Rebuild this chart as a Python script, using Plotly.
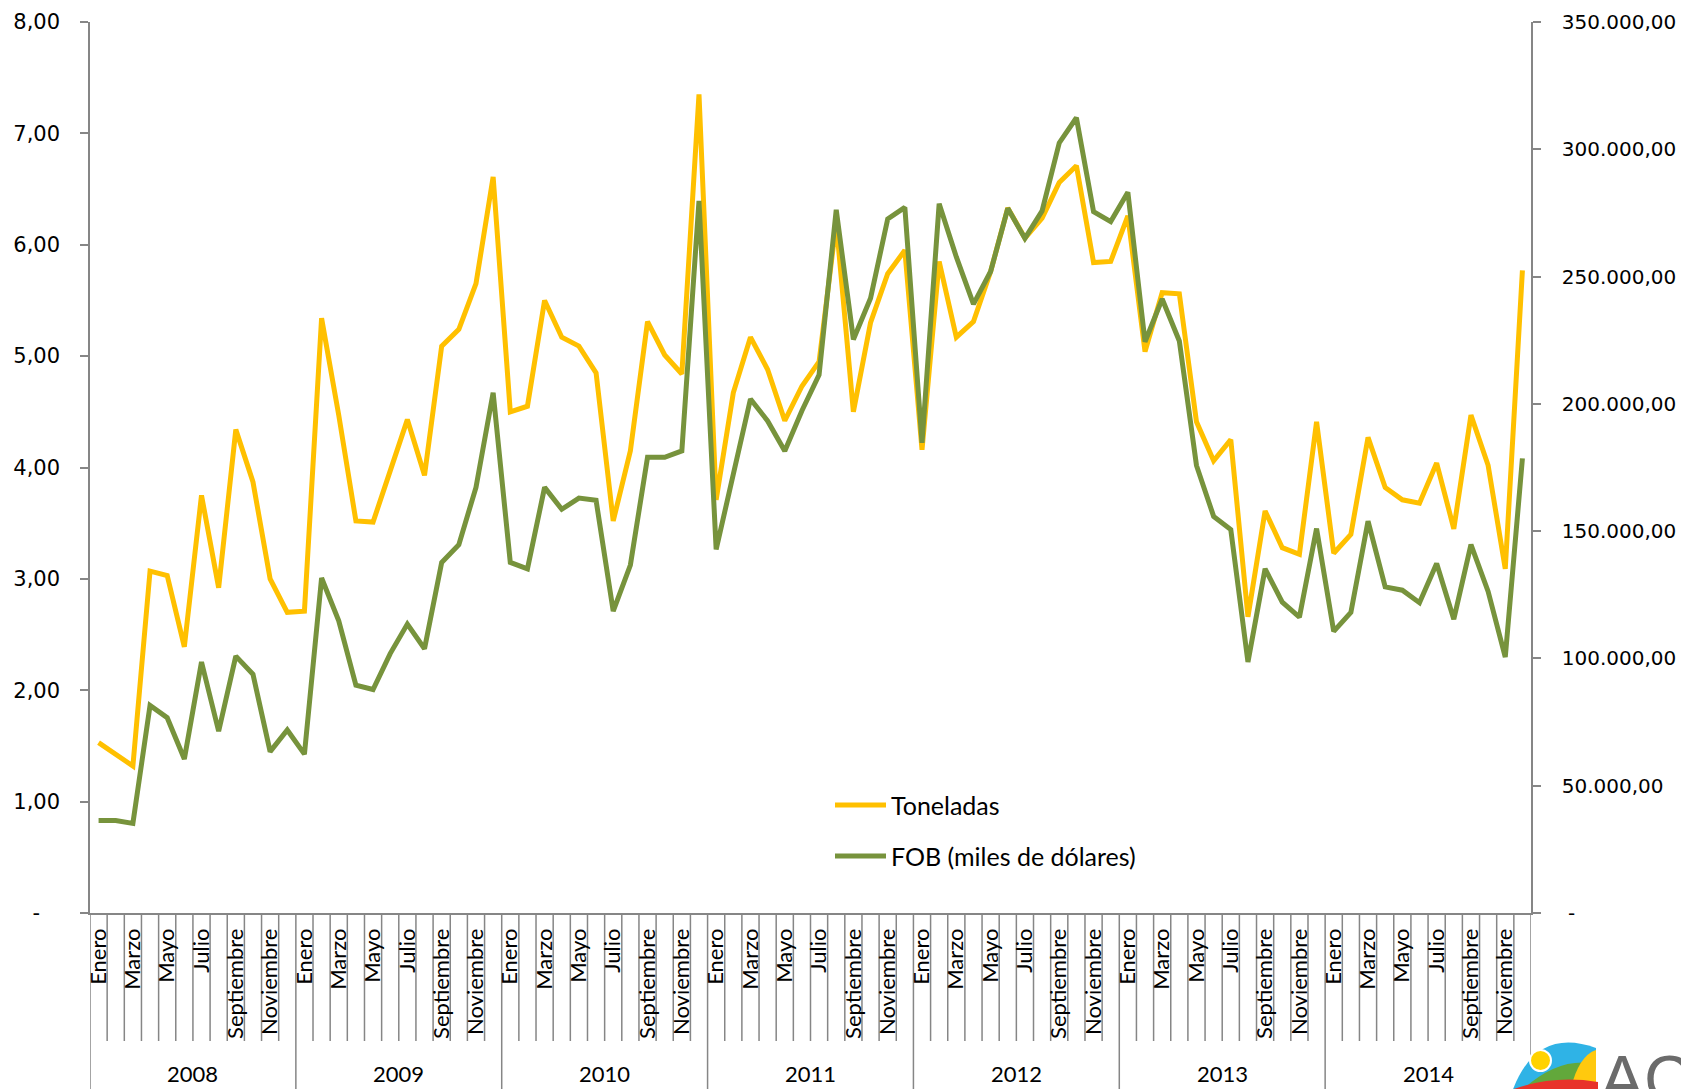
import plotly.graph_objects as go

# ---------------- data ----------------
years = ["2008", "2009", "2010", "2011", "2012", "2013", "2014"]
months = ["Enero", "Febrero", "Marzo", "Abril", "Mayo", "Junio", "Julio",
          "Agosto", "Septiembre", "Octubre", "Noviembre", "Diciembre"]

toneladas = [
    1.53, 1.42, 1.32, 3.07, 3.03, 2.39, 3.75, 2.92, 4.34, 3.87, 3.00, 2.70,   # 2008
    2.71, 5.34, 4.47, 3.52, 3.51, 3.97, 4.43, 3.93, 5.09, 5.24, 5.65, 6.61,   # 2009
    4.50, 4.55, 5.50, 5.17, 5.09, 4.85, 3.52, 4.15, 5.31, 5.01, 4.84, 7.35,   # 2010
    3.71, 4.67, 5.17, 4.88, 4.42, 4.73, 4.95, 6.20, 4.50, 5.30, 5.74, 5.95,   # 2011
    4.16, 5.85, 5.17, 5.31, 5.76, 6.33, 6.06, 6.24, 6.56, 6.71, 5.84, 5.85,   # 2012
    6.26, 5.04, 5.57, 5.56, 4.41, 4.06, 4.25, 2.66, 3.61, 3.28, 3.22, 4.41,   # 2013
    3.23, 3.40, 4.27, 3.82, 3.71, 3.68, 4.04, 3.45, 4.47, 4.02, 3.09, 5.77,   # 2014
]

fob = [
    36300, 36300, 35200, 81500, 76700, 60500, 98600, 71400, 100900, 93800, 63400, 71900,          # 2008
    62400, 131600, 114800, 89500, 87800, 101900, 113500, 103800, 137700, 144700, 167200, 204400,  # 2009
    137700, 135200, 167200, 158600, 163000, 162100, 118600, 136700, 179000, 179000, 181500, 279700,  # 2010
    142800, 172900, 201900, 193300, 181500, 197300, 211400, 276200, 225300, 241500, 272600, 277200,  # 2011
    184700, 278600, 257700, 239200, 252000, 276800, 265000, 275800, 302500, 312400, 275500, 271600,  # 2012
    283100, 224400, 241200, 224700, 175800, 155800, 150600, 98600, 135200, 122100, 116200, 151000,  # 2013
    110600, 118100, 153900, 128100, 126800, 121900, 137300, 115400, 144700, 126300, 100500, 178600,  # 2014
]

left_ticks = [0, 1, 2, 3, 4, 5, 6, 7, 8]
right_ticks = [0, 50000, 100000, 150000, 200000, 250000, 300000, 350000]

series_names = ["Toneladas", "FOB (miles de dólares)"]
colors = ["#FFC000", "#77933C"]

# ---------------- helpers ----------------
OFF = 8                      # default page body margin
W, H = 1689 - OFF, 1089 - OFF
ML, MR, MT, MB = 82, 158, 14, 176
PW, PH = W - ML - MR, H - MT - MB


def fx(xw):   # window pixel -> paper x
    return (xw - OFF - ML) / PW


def fy(yw):   # window pixel -> paper y
    return (H - MB - (yw - OFF)) / PH


def es_num(v):
    s = f"{v:,.2f}"
    return s.replace(",", "X").replace(".", ",").replace("X", ".")


n = len(toneladas)
idx = list(range(n))
GRAY = "#868686"

fig = go.Figure()
fig.add_trace(go.Scatter(x=idx, y=toneladas, mode="lines", name=series_names[0],
                         line=dict(color=colors[0], width=5), yaxis="y",
                         showlegend=False))
fig.add_trace(go.Scatter(x=idx, y=fob, mode="lines", name=series_names[1],
                         line=dict(color=colors[1], width=5), yaxis="y2",
                         showlegend=False))

tickvals_x = idx[::2]
ticktext_x = [months[i % 12] for i in tickvals_x]

left_text = ["-\u00a0\u00a0\u00a0" if v == 0 else f"{v:.2f}".replace(".", ",") for v in left_ticks]
right_text = ["\u00a0-" if v == 0 else es_num(v) for v in right_ticks]

fig.update_layout(
    width=W, height=H,
    margin=dict(l=ML, r=MR, t=MT, b=MB, autoexpand=False),
    paper_bgcolor="white", plot_bgcolor="white",
    showlegend=False,
    xaxis=dict(range=[-0.5, n - 0.5], tickmode="array", tickvals=tickvals_x,
               ticktext=ticktext_x, tickangle=-90, ticks="", showgrid=False,
               zeroline=False, showline=True, linecolor=GRAY, linewidth=1.5,
               ticklabelstandoff=5, automargin=False,
               tickfont=dict(family="Lato", size=22, color="#000000")),
    yaxis=dict(range=[0, 8], tickmode="array", tickvals=left_ticks, ticktext=left_text,
               ticks="outside", ticklen=8, tickcolor=GRAY, tickwidth=1.5,
               showline=True, linecolor=GRAY, linewidth=1.5, showgrid=False,
               zeroline=False, ticklabelstandoff=16, automargin=False,
               tickfont=dict(family="DejaVu Sans", size=21, color="#000000")),
    yaxis2=dict(range=[0, 350000], overlaying="y", side="right", tickmode="array",
                tickvals=right_ticks, ticktext=right_text,
                ticks="outside", ticklen=8, tickcolor=GRAY, tickwidth=1.5,
                showline=True, linecolor=GRAY, linewidth=1.5, showgrid=False,
                zeroline=False, ticklabelstandoff=17, automargin=False,
                tickfont=dict(family="DejaVu Sans", size=20, color="#000000")),
)

shapes = []
# category boundary tick lines under the axis; year separators go further down
for k in range(n + 1):
    is_year = (k % 12 == 0)
    shapes.append(dict(type="line", xref="x", yref="paper", x0=k - 0.5, x1=k - 0.5,
                       y0=0, y1=fy(1092) if is_year else fy(1041),
                       line=dict(color=GRAY, width=1.5), layer="below"))

annotations = []
for j, yr in enumerate(years):
    annotations.append(dict(x=12 * j + 5.5, y=fy(1073), xref="x", yref="paper",
                             text=yr, showarrow=False, xanchor="center", yanchor="middle",
                             font=dict(family="Lato", size=22, color="#000000")))

# manual legend
leg_rows = [805, 856]
for name, col, ry in zip(series_names, colors, leg_rows):
    shapes.append(dict(type="line", xref="paper", yref="paper", x0=fx(835), x1=fx(886),
                       y0=fy(ry), y1=fy(ry), line=dict(color=col, width=5)))
    annotations.append(dict(x=fx(889), y=fy(ry), xref="paper", yref="paper", text=name,
                            showarrow=False, xanchor="left", yanchor="middle",
                            font=dict(family="Lato", size=25, color="#000000")))


# simple logo approximation (bottom right)
def P(x, y):
    return f"{fx(x):.5f},{fy(y):.5f}"


logo = [
    ("M " + P(1512, 1092) + " Q " + P(1536, 1026) + " " + P(1596, 1048) + " L " + P(1596, 1092) + " Z", "#2FB3E6"),
    ("M " + P(1520, 1092) + " Q " + P(1558, 1056) + " " + P(1596, 1064) + " L " + P(1596, 1092) + " Z", "#62A83B"),
    ("M " + P(1570, 1092) + " Q " + P(1578, 1056) + " " + P(1596, 1050) + " L " + P(1596, 1092) + " Z", "#FFC90E"),
    ("M " + P(1506, 1092) + " Q " + P(1550, 1074) + " " + P(1598, 1082) + " L " + P(1598, 1092) + " Z", "#E8332A"),
]
for path, col in logo:
    shapes.append(dict(type="path", xref="paper", yref="paper", path=path,
                       fillcolor=col, line=dict(width=0)))
shapes.append(dict(type="circle", xref="paper", yref="paper",
                   x0=fx(1530), x1=fx(1551), y0=fy(1050), y1=fy(1071),
                   fillcolor="#FFD200", line=dict(color="white", width=2)))
annotations.append(dict(x=fx(1598), y=fy(1040), xref="paper", yref="paper", text="AC",
                        showarrow=False, xanchor="left", yanchor="top",
                        font=dict(family="Liberation Sans", size=66, color="#6B6B6B")))

fig.update_layout(shapes=shapes, annotations=annotations)
fig.write_html("out.html")
